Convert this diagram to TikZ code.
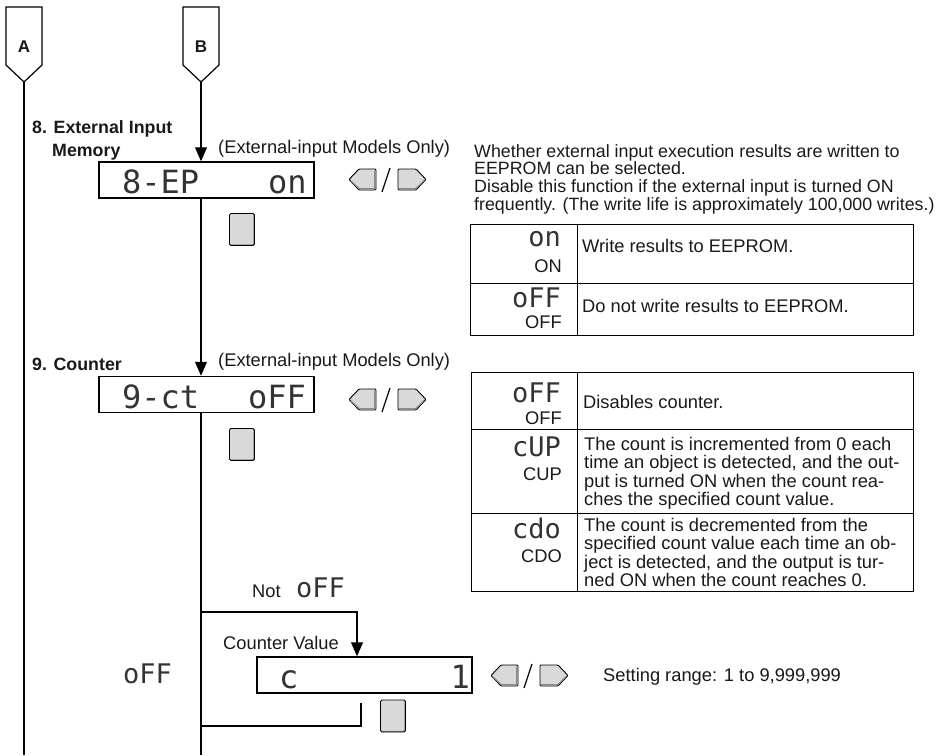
\documentclass[tikz,border=0pt]{standalone}
\usepackage{fontspec}
\setmainfont{Liberation Sans}
\newfontfamily\segfont{DejaVu Sans Mono}
\usetikzlibrary{arrows.meta,calc}
\tikzset{
  flow/.style={line width=1.2pt},
  pin/.style={flow,-{Triangle[length=14pt,width=12pt]}},
  tag/.style={line width=1.2pt},
  disp/.style={draw,line width=1.5pt,minimum width=215pt,minimum height=36pt,inner sep=0pt},
  seg/.style={font=\segfont\fontsize{32}{32}\selectfont,inner sep=0pt,anchor=base west,text=black!80},
  segs/.style={seg,font=\segfont\fontsize{27}{27}\selectfont},
  key/.style={draw,line width=0.9pt,fill=black!15,rounded corners=1.5pt,inner sep=0pt,
    path picture={\draw[black!45,line width=2.5pt]
      (path picture bounding box.south west) -- (path picture bounding box.south east)
      -- (path picture bounding box.north east);}},
  txt/.style={font=\fontsize{18.3}{18.3}\selectfont,inner sep=0pt,text=black!90},
  head/.style={txt,font=\fontsize{17.8}{18.3}\selectfont\bfseries,anchor=base west},
  cell/.style={txt,align=left,anchor=north west},
  lrkeys/.pic={
    \draw[key,rounded corners=1pt,path picture={}] (0,10.5) -- (10,0) -- (27,0) -- (27,21) -- (10,21) -- cycle;
    \draw[black!45,line width=1.2pt] (2,12) -- (10.5,19.8) -- (25.8,19.8) -- (25.8,1.5);
    \draw[line width=1.2pt] (33,23) -- (41,-1);
    \draw[key,rounded corners=1pt,path picture={}] (49,0) -- (67,0) -- (77,10.5) -- (67,21) -- (49,21) -- cycle;
    \draw[black!45,line width=1.2pt] (50.2,19.8) -- (66.5,19.8) -- (75,11.5);
  }
}

\begin{document}
\begin{tikzpicture}[x=1pt,y=-1pt]
  \useasboundingbox (0,0) rectangle (937,755);
  % tags A and B
  \draw[tag] (6,7) -- (42,7) -- (42,65) -- (24,82) -- (6,65) -- cycle;
  \draw[tag] (183,7) -- (219,7) -- (219,65) -- (201,82) -- (183,65) -- cycle;
  \node[txt,font=\fontsize{17}{17}\selectfont\bfseries] (lA) at (24,47) {A};
  \node[txt,font=\fontsize{17}{17}\selectfont\bfseries] (lB) at (201,47) {B};
  \coordinate (tipA) at (24,82);
  \coordinate (tipB) at (201,82);
  \coordinate (endA) at (24,755);
  \coordinate (endB) at (201,755);
  \draw[flow] (tipA) -- (endA);

  % 8. external input memory
  \node[head] (h8a) at (32,133) {8. External Input};
  \node[head] (h8b) at (52,156) {Memory};
  \node[txt,anchor=base west] (m8) at (218,153) {(External-input Models Only)};
  \node[disp] (d8) at (206.5,180) {};
  \node[seg] (d8l) at (122,193) {8-EP};
  \node[seg] (d8r) at (268,193) {on};
  \pic at (349,169) {lrkeys};
  \node[key,minimum width=25pt,minimum height=32pt] (k8) at (242,229.5) {};
  \draw[pin] (tipB) -- (tipB |- d8.north);
  \node[cell,font=\fontsize{17.8}{17.8}\selectfont] (p8) at (474,144) {Whether external input execution results are written to\\
    EEPROM can be selected.\\
    Disable this function if the external input is turned ON\\
    frequently. (The write life is approximately 100,000 writes.)};
  % table for 8
  \draw[line width=1pt] (470,224) rectangle (913,335);
  \draw[line width=1pt] (470,283) -- (913,283) (577,224) -- (577,335);
  \node[segs,anchor=base east] (s8a) at (561,246) {on};
  \node[txt,anchor=base east] (c8a) at (562,272) {ON};
  \node[txt,anchor=base west] (t8a) at (582,252) {Write results to EEPROM.};
  \node[segs,anchor=base east] (s8b) at (561,307) {oFF};
  \node[txt,anchor=base east] (c8b) at (562,328) {OFF};
  \node[txt,anchor=base west] (t8b) at (582,312) {Do not write results to EEPROM.};

  % 9. counter
  \node[head] (h9) at (32,370) {9. Counter};
  \node[txt,anchor=base west] (m9) at (218,366) {(External-input Models Only)};
  \node[disp] (d9) at (206.5,394.5) {};
  \node[seg] (d9l) at (122,408) {9-ct};
  \node[seg] (d9r) at (248,408) {oFF};
  \pic at (349,389) {lrkeys};
  \node[key,minimum width=25pt,minimum height=32pt] (k9) at (242,444.5) {};
  \draw[pin] (tipB |- d8.south) -- (tipB |- d9.north);
  \draw[flow] (tipB |- d9.south) -- (endB);
  % table for 9
  \draw[line width=1pt] (471,372) rectangle (913,591);
  \draw[line width=1pt] (471,429) -- (913,429) (471,513) -- (913,513) (577,372) -- (577,591);
  \node[segs,anchor=base east] (s9a) at (561,402) {oFF};
  \node[txt,anchor=base east] (c9a) at (562,424) {OFF};
  \node[txt,anchor=base west] (t9a) at (583,408) {Disables counter.};
  \node[segs,anchor=base east] (s9b) at (561,456) {cUP};
  \node[txt,anchor=base east] (c9b) at (562,480) {CUP};
  \node[cell] (t9b) at (584,437) {The count is incremented from 0 each\\
    time an object is detected, and the out-\\
    put is turned ON when the count rea-\\
    ches the specified count value.};
  \node[segs,anchor=base east] (s9c) at (561,538) {cdo};
  \node[txt,anchor=base east] (c9c) at (562,562) {CDO};
  \node[cell] (t9c) at (584,518) {The count is decremented from the\\
    specified count value each time an ob-\\
    ject is detected, and the output is tur-\\
    ned ON when the count reaches 0.};

  % counter value branch
  \node[txt,anchor=base west] (nt) at (252,597) {Not};
  \node[segs] (nf) at (296,597) {oFF};
  \node[segs] (lf) at (123,683) {oFF};
  \node[txt,anchor=base west] (cv) at (223,649) {Counter Value};
  \node[disp] (dc) at (364.5,675) {};
  \node[seg] (dcl) at (279,688) {c};
  \node[seg,anchor=base east] (dcr) at (470,688) {1};
  \pic at (491,665) {lrkeys};
  \node[key,minimum width=25pt,minimum height=32pt] (kc) at (393,716) {};
  \node[txt,anchor=base west] (rng) at (603,681) {Setting range: 1 to 9,999,999};
  \coordinate (brA) at (201,612);
  \coordinate (brB) at (357,612);
  \coordinate (rtA) at (361,703);
  \coordinate (rtB) at (361,726);
  \draw[pin] (brA) -- (brB) -- (brB |- dc.north);
  \draw[flow] (rtA) -- (rtB) -- (tipB |- rtB);
\end{tikzpicture}
\end{document}
